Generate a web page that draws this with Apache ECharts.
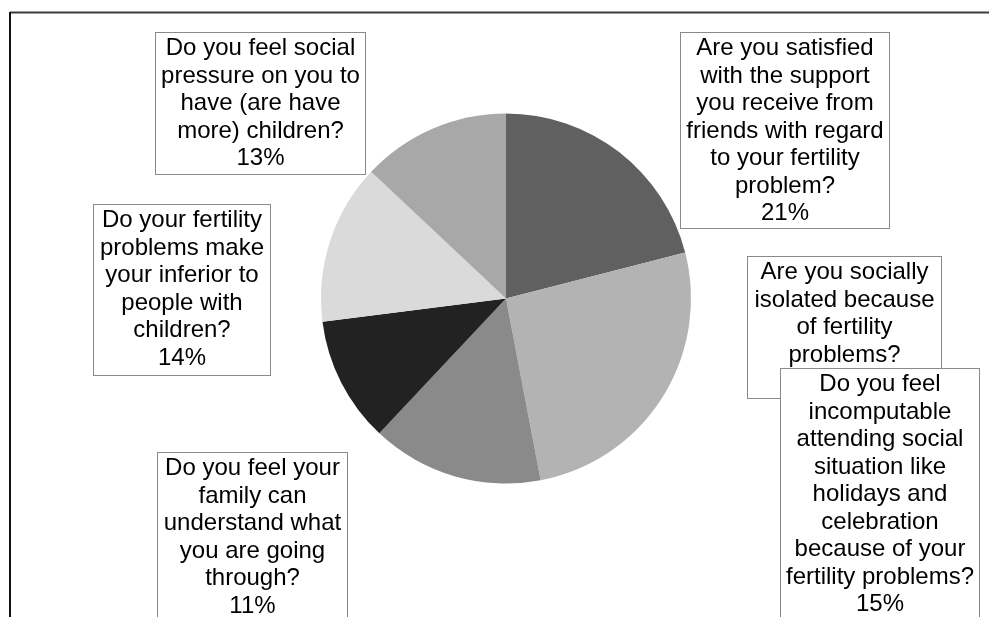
<!DOCTYPE html>
<html>
<head>
<meta charset="utf-8">
<style>
  html, body { margin: 0; padding: 0; background: #fff; }
  #chart { width: 989px; height: 617px; }
</style>
<script src="https://cdn.jsdelivr.net/npm/echarts@6/dist/echarts.min.js"></script>
</head>
<body>
<div id="chart"></div>
<script>
// Survey questions (clockwise from 12 o'clock) and share of respondents (%)
const questions = [
  'Are you satisfied\nwith the support\nyou receive from\nfriends with regard\nto your fertility\nproblem?',
  'Are you socially\nisolated because\nof fertility\nproblems?',
  'Do you feel\nincomputable\nattending social\nsituation like\nholidays and\ncelebration\nbecause of your\nfertility problems?',
  'Do you feel your\nfamily can\nunderstand what\nyou are going\nthrough?',
  'Do your fertility\nproblems make\nyour inferior to\npeople with\nchildren?',
  'Do you feel social\npressure on you to\nhave (are have\nmore) children?'
];
const shares = [21, 26, 15, 11, 14, 13];

// Slice fills
const sliceColors = ['#606060', '#b3b3b3', '#8a8a8a', '#222222', '#dadada', '#a8a8a8'];

// Callout boxes: [left, top, width, height] in px
const calloutBoxes = [
  [680, 33, 210, 197],
  [747, 257, 195, 143],
  [780, 369, 200, 262],
  [157, 453, 191, 180],
  [93, 205, 178, 172],
  [155, 33, 211, 143]
];
const PAD = 2;

const chart = echarts.init(document.getElementById('chart'), null, { renderer: 'canvas' });

const data = questions.map((q, i) => {
  const b = calloutBoxes[i];
  return {
    name: q,
    value: shares[i],
    itemStyle: { color: sliceColors[i] },
    label: { width: b[2] - 2, height: b[3] - 2 * PAD - 2 }
  };
});

chart.setOption({
  animation: false,
  backgroundColor: '#ffffff',
  graphic: [
    { type: 'line', z: 0, shape: { x1: 10, y1: 12.5, x2: 989, y2: 12.5 },
      style: { stroke: '#3c3c3c', lineWidth: 2 } },
    { type: 'line', z: 0, shape: { x1: 10, y1: 12, x2: 10, y2: 617 },
      style: { stroke: '#111111', lineWidth: 2 } }
  ],
  series: [{
    type: 'pie',
    center: [506, 298.5],
    radius: [0, 185],
    startAngle: 90,
    clockwise: true,
    avoidLabelOverlap: false,
    silent: true,
    itemStyle: { borderWidth: 0 },
    labelLine: { show: false },
    label: {
      show: true,
      formatter: '{b}\n{c}%',
      fontFamily: 'Liberation Sans, Arial, sans-serif',
      fontSize: 24,
      lineHeight: 27.5,
      color: '#000',
      backgroundColor: '#fff',
      borderColor: '#8a8a8a',
      borderWidth: 1,
      padding: [PAD, 0],
      align: 'center',
      verticalAlign: 'top',
      overflow: 'none'
    },
    labelLayout: function (params) {
      const b = calloutBoxes[params.dataIndex];
      return {
        x: b[0] + b[2] / 2,
        y: b[1],
        align: 'center',
        verticalAlign: 'top',
        hideOverlap: false
      };
    },
    data: data
  }]
});
</script>
</body>
</html>
